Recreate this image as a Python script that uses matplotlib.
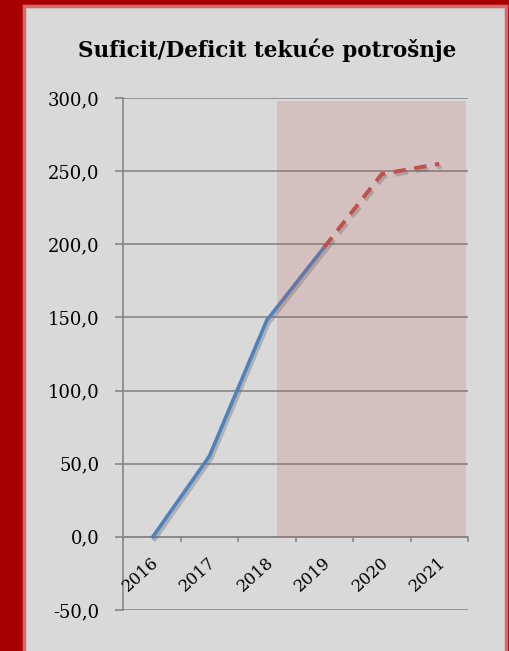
import matplotlib.pyplot as plt
import matplotlib.patheffects as pe
from matplotlib.patches import Rectangle

# Data
years = ["2016", "2017", "2018", "2019", "2020", "2021"]
actual = [-1.0, 55.0, 148.0, 198.0]          # 2016-2019, solid
forecast = [198.0, 248.0, 255.0]             # 2019-2021, dashed
y_ticks = [-50, 0, 50, 100, 150, 200, 250, 300]

serif = "DejaVu Serif"

fig = plt.figure(figsize=(5.10, 6.51), dpi=100)
fig.patch.set_facecolor("#a80000")

# Light gray panel inside the red frame
fig.patches.append(Rectangle((24 / 510, -0.01), (506 - 24) / 510, 1 - 6 / 651 + 0.01,
                             transform=fig.transFigure, facecolor="#d9d9d9",
                             edgecolor="#d46a6a", linewidth=2.5, zorder=-10))

ax = fig.add_axes([123 / 510, 1 - 610 / 651, (468 - 123) / 510, (610 - 98) / 651])
ax.set_facecolor("none")

x = list(range(len(years)))
shadow = [pe.SimpleLineShadow(offset=(1.5, -2), shadow_color="#666666", alpha=0.35),
          pe.Normal()]

# Actual values (blue, solid)
ax.plot(x[:len(actual)], actual, color="#4f81bd", linewidth=2.6,
        solid_capstyle="butt", zorder=3, path_effects=shadow)

# Projection shading
ax.add_patch(Rectangle((2.17, 0), 5.46 - 2.17, 298, facecolor="#c0504d",
                       alpha=0.18, edgecolor="none", zorder=4))

# Forecast (red, dashed)
ax.plot(x[3:], forecast, color="#c0504d", linewidth=2.8, linestyle=(0, (3.2, 2.2)),
        zorder=5, path_effects=shadow)

ax.set_xlim(-0.5, 5.5)
ax.set_ylim(-50, 300)
ax.set_yticks(y_ticks)
ax.set_yticklabels([f"{v:.1f}".replace(".", ",") for v in y_ticks],
                   fontsize=13, family=serif)
ax.yaxis.grid(True, color="#878787", linewidth=1.2)
ax.set_axisbelow(True)

for s in ["top", "right", "bottom"]:
    ax.spines[s].set_visible(False)
ax.spines["left"].set_color("#878787")
ax.spines["left"].set_linewidth(1.2)
ax.tick_params(axis="y", length=6, color="#878787", width=1.2, pad=11)

# x axis sits at zero with tick marks between categories
ax.axhline(0, color="#878787", linewidth=1.2, zorder=2)
ax.set_xticks([])
for b in [i - 0.5 for i in range(len(years) + 1)]:
    ax.plot([b, b], [0, -2.8], color="#878787", linewidth=1.2, clip_on=False)
for i, yr in enumerate(years):
    ax.annotate(yr, xy=(i, 0), xytext=(-1, -12), textcoords="offset points",
                rotation=42, rotation_mode="anchor", ha="right", va="top",
                fontsize=12, family=serif, annotation_clip=False)

fig.text(267 / 510, 1 - 50 / 651, "Suficit/Deficit tekuće potrošnje",
         ha="center", va="center", fontsize=15.5, fontweight="bold",
         family=serif)

fig.savefig("out.png", dpi=100, facecolor=fig.get_facecolor())
